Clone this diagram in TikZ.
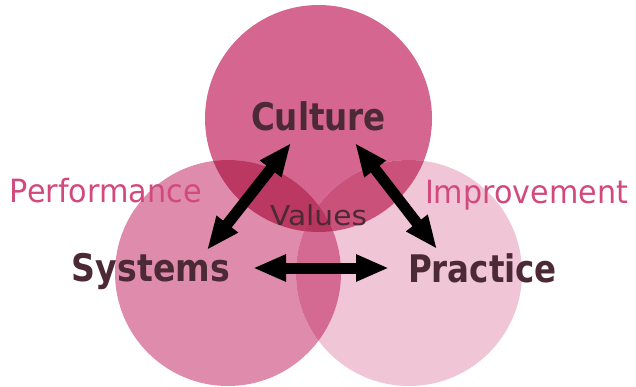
\documentclass[tikz,border=0pt]{standalone}
\usepackage{fontspec}
\usepackage{graphicx}
\setmainfont{DejaVu Sans}
\usetikzlibrary{arrows.meta}
\definecolor{cT}{HTML}{D4668F}
\definecolor{cL}{HTML}{DF8BAB}
\definecolor{cR}{HTML}{F0C5D5}
\definecolor{cTL}{HTML}{BA3862}
\definecolor{cTR}{HTML}{C9517A}
\definecolor{cLR}{HTML}{D46A92}
\definecolor{cTLR}{HTML}{B7365F}
\definecolor{darktext}{HTML}{4B2A36}
\definecolor{pinktext}{HTML}{D24A7D}
\tikzset{
  mainlabel/.style={inner sep=0pt, anchor=base, text=darktext, font=\bfseries\fontsize{38bp}{42bp}\selectfont},
  sidelabel/.style={inner sep=0pt, anchor=base, text=pinktext, font=\fontsize{32bp}{36bp}\selectfont},
  midlabel/.style={inner sep=0pt, anchor=base, text=darktext, font=\fontsize{27.4bp}{30bp}\selectfont},
  link/.style={line width=11bp, draw=black, {Triangle[length=33bp,width=25bp]}-{Triangle[length=33bp,width=25bp]}}
}
\begin{document}
\begin{tikzpicture}[x=1bp,y=-1bp]
\useasboundingbox (0,0) rectangle (636,386);
\def\circT{(318.5,118.5) circle[radius=113.5bp]}
\def\circL{(228,273) circle[radius=113bp]}
\def\circR{(409,273) circle[radius=113bp]}
% single circles
\fill[cT] \circT;
\fill[cL] \circL;
\fill[cR] \circR;
% pairwise overlaps
\begin{scope}\clip \circT; \fill[cTL] \circL; \end{scope}
\begin{scope}\clip \circT; \fill[cTR] \circR; \end{scope}
\begin{scope}\clip \circL; \fill[cLR] \circR; \end{scope}
\begin{scope}\clip \circT; \clip \circL; \fill[cTLR] \circR; \end{scope}
% labels
\node[midlabel] (values) at (318.5,225) {\resizebox{97bp}{\height}{Values}};
\node[mainlabel] (culture) at (318.5,130.5) {\resizebox{135bp}{\height}{Culture}};
\node[mainlabel] (systems) at (151,281) {\resizebox{158bp}{\height}{Systems}};
\node[mainlabel] (practice) at (482.5,282) {\resizebox{149bp}{\height}{Practice}};
\node[sidelabel] (performance) at (106,202) {\resizebox{192bp}{\height}{Performance}};
\node[sidelabel] (improvement) at (526.5,203) {\resizebox{203bp}{\height}{Improvement}};
% arrow end points
\coordinate (cs) at (291,143);
\coordinate (sc) at (207,250);
\coordinate (cp) at (355,143);
\coordinate (pc) at (437,249);
\coordinate (sp) at (253,268);
\coordinate (ps) at (389,268);
\draw[link] (cs) -- (sc);
\draw[link] (cp) -- (pc);
\draw[link] (sp) -- (ps);
\end{tikzpicture}
\end{document}
